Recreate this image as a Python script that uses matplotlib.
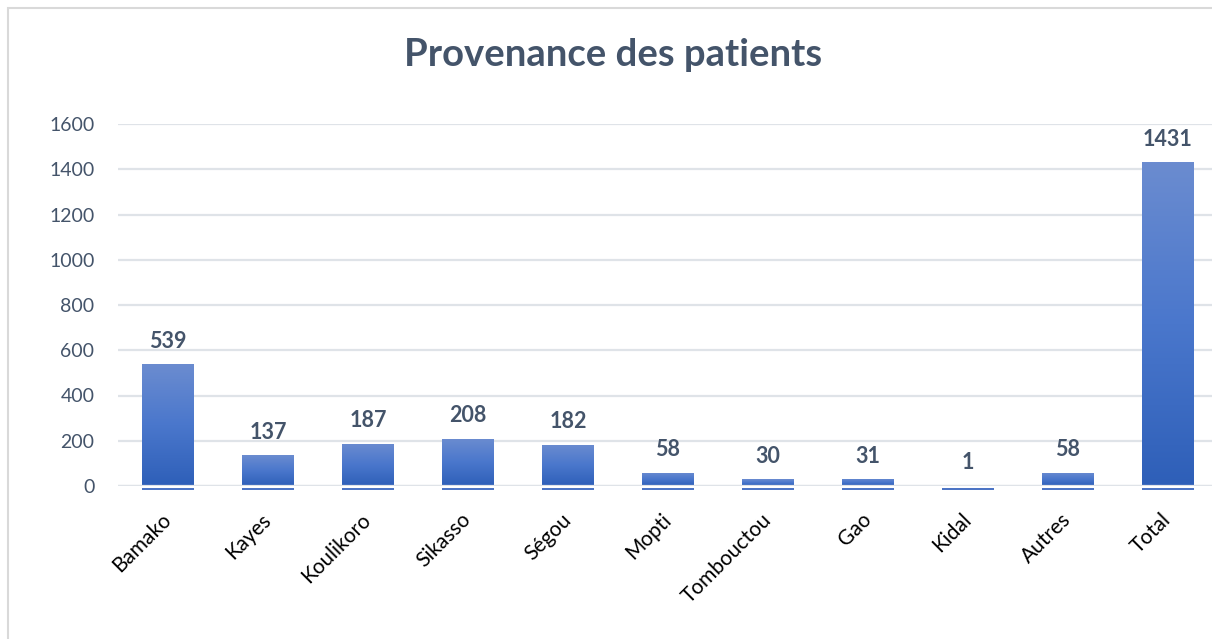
import numpy as np
import matplotlib.pyplot as plt
from matplotlib.patches import Rectangle
from matplotlib.colors import LinearSegmentedColormap

regions = ["Bamako", "Kayes", "Koulikoro", "Sikasso", "Ségou", "Mopti",
           "Tombouctou", "Gao", "Kidal", "Autres", "Total"]
patients = [539, 137, 187, 208, 182, 58, 30, 31, 1, 58, 1431]
yticks = [0, 200, 400, 600, 800, 1000, 1200, 1400, 1600]

plt.rcParams['font.family'] = ['Lato', 'DejaVu Sans']

W, H = 1212, 639
fig = plt.figure(figsize=(W / 100, H / 100), dpi=100)
ax = fig.add_axes([118 / W, 1 - 486 / H, (1212 - 118) / W, (486 - 124) / H])

# frame around the chart
fig.patches.append(Rectangle((8 / W, -0.01), 1.02, 1 - 8 / H + 0.01, transform=fig.transFigure,
                             fill=False, edgecolor="#d9d9d9", lw=1.5))

x = np.arange(len(regions))
bars = ax.bar(x, patients, width=0.52, color="#4472c4", zorder=2)

# vertical gradient on each bar
cmap = LinearSegmentedColormap.from_list("bar", ["#2e5fb8", "#4a77cc", "#6b8cd0"])
grad = np.linspace(0, 1, 256).reshape(-1, 1)
for b in bars:
    b.set_facecolor("none")
    x0, w, h = b.get_x(), b.get_width(), b.get_height()
    im = ax.imshow(grad, extent=[x0, x0 + w, 0, max(h, 1)], origin="lower",
                   cmap=cmap, aspect="auto", zorder=2)
    im.set_clip_path(b)
# thin line under the baseline, as in the original
ax.hlines([-12] * len(x), x - 0.26, x + 0.26, color="#3a67bf", lw=1.3, zorder=3, clip_on=False)

for xi, v in zip(x, patients):
    ax.text(xi, v + 55, str(v), ha="center", va="bottom", fontsize=15.5,
            fontweight="bold", color="#44546a", zorder=4)

ax.set_xlim(-0.5, 10.44)
ax.set_ylim(0, 1600)
ax.set_yticks(yticks)
ax.set_xticks(x)
ax.set_xticklabels(regions, rotation=45, ha="right", va="center", rotation_mode="anchor",
                   fontsize=15, color="#000000")
ax.tick_params(axis="x", length=0, pad=22)
ax.tick_params(axis="y", length=0, pad=17, labelsize=14, labelcolor="#44546a")
ax.grid(axis="y", color="#dfe3e8", lw=1.6, zorder=1)
ax.set_axisbelow(True)
for s in ax.spines.values():
    s.set_visible(False)
ax.axhline(0, color="#dfe3e8", lw=1.6, zorder=3)

fig.text(613 / W, 1 - 55 / H, "Provenance des patients", ha="center", va="center",
         fontsize=27.5, fontweight="bold", color="#44546a")

fig.savefig("out.png", dpi=100)
